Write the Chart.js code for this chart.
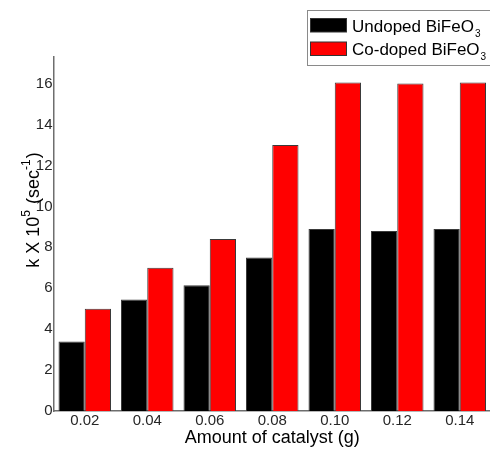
<!DOCTYPE html>
<html>
<head>
<meta charset="utf-8">
<script src="https://cdn.jsdelivr.net/npm/chart.js@4.4.1/dist/chart.umd.min.js"></script>
<style>
  html, body { margin: 0; padding: 0; background: #fff; overflow: hidden; }
  #wrap { width: 492px; height: 452px; }
</style>
</head>
<body>
<div id="wrap"><canvas id="c" width="492" height="452"></canvas></div>
<script>
// ---- data ----
const categories = ['0.02', '0.04', '0.06', '0.08', '0.10', '0.12', '0.14'];
const undopedValues = [3.4, 5.45, 6.15, 7.5, 8.9, 8.8, 8.9];
const codopedValues = [5.0, 7.0, 8.4, 13.0, 16.05, 16.0, 16.05];
const seriesNames = ['Undoped BiFeO', 'Co-doped BiFeO'];
const seriesColors = ['#000000', '#ff0000'];
const yTickValues = [0, 2, 4, 6, 8, 10, 12, 14, 16];
const xTitle = 'Amount of catalyst (g)';

const FONT = '"Liberation Sans", Arial, Helvetica, sans-serif';

const decorPlugin = {
  id: 'decor',
  afterDraw(chart) {
    const ctx = chart.ctx;
    const ca = chart.chartArea;
    ctx.save();
    // x title
    ctx.fillStyle = '#000';
    ctx.font = '18px ' + FONT;
    ctx.textAlign = 'center';
    ctx.textBaseline = 'alphabetic';
    ctx.fillText(xTitle, (ca.left + ca.right) / 2, 443);

    // y title (rotated) with superscripts
    const parts = [
      {t: 'k X 10', s: 18, dy: 0},
      {t: '5', s: 12, dy: -9},
      {t: ' (sec', s: 18, dy: 0},
      {t: '-1', s: 12, dy: -9},
      {t: ')', s: 18, dy: 0}
    ];
    let total = 0;
    parts.forEach(p => { ctx.font = p.s + 'px ' + FONT; p.w = ctx.measureText(p.t).width; total += p.w; });
    ctx.translate(39, 211);
    ctx.rotate(-Math.PI / 2);
    ctx.textAlign = 'left';
    let x = -total / 2;
    parts.forEach(p => { ctx.font = p.s + 'px ' + FONT; ctx.fillText(p.t, x, p.dy); x += p.w + (p.s === 12 ? 1 : 0); });
    ctx.setTransform(1, 0, 0, 1, 0, 0);

    // legend
    ctx.fillStyle = '#fff';
    ctx.fillRect(307.5, 10.5, 200, 55);
    ctx.strokeStyle = '#8a8a8a';
    ctx.lineWidth = 1;
    ctx.strokeRect(307.5, 10.5, 200, 55);
    const rows = [{y: 18.5, base: 31.5}, {y: 42, base: 55}];
    rows.forEach((r, i) => {
      ctx.fillStyle = seriesColors[i];
      ctx.fillRect(310.5, r.y, 36, 13.5);
      ctx.strokeStyle = '#333';
      ctx.strokeRect(310.5, r.y, 36, 13.5);
      ctx.fillStyle = '#000';
      ctx.font = '17px ' + FONT;
      ctx.textAlign = 'left';
      ctx.fillText(seriesNames[i], 352, r.base);
      const w = ctx.measureText(seriesNames[i]).width;
      ctx.font = '10px ' + FONT;
      ctx.fillText('3', 352 + w + 1, r.base + 5);
    });
    ctx.restore();
  }
};

new Chart(document.getElementById('c'), {
  type: 'bar',
  data: {
    labels: categories,
    datasets: [
      { label: seriesNames[0], data: undopedValues, backgroundColor: seriesColors[0], borderColor: '#3a3a3a', borderWidth: 1, barPercentage: 1.0, categoryPercentage: 0.84 },
      { label: seriesNames[1], data: codopedValues, backgroundColor: seriesColors[1], borderColor: '#3a3a3a', borderWidth: 1, barPercentage: 1.0, categoryPercentage: 0.84 }
    ]
  },
  options: {
    responsive: false,
    animation: false,
    devicePixelRatio: 1,
    layout: { padding: { left: 0, right: 1, top: 57, bottom: 0 } },
    plugins: { legend: { display: false }, tooltip: { enabled: false } },
    scales: {
      x: {
        grid: { display: false, drawTicks: false },
        border: { display: true, color: '#6e6e6e', width: 1.5 },
        ticks: { color: '#262626', font: { size: 15, family: FONT }, padding: 1, maxRotation: 0, autoSkip: false },
        afterFit(s) { s.height = 41; }
      },
      y: {
        min: 0, max: 17.3,
        grid: { display: false, drawTicks: false },
        border: { display: true, color: '#6e6e6e', width: 1.5 },
        ticks: { color: '#262626', font: { size: 15, family: FONT }, padding: 1, stepSize: 2 },
        afterBuildTicks(s) { s.ticks = yTickValues.map(v => ({ value: v })); },
        afterFit(s) { s.width = 53.5; }
      }
    }
  },
  plugins: [decorPlugin]
});
</script>
</body>
</html>
